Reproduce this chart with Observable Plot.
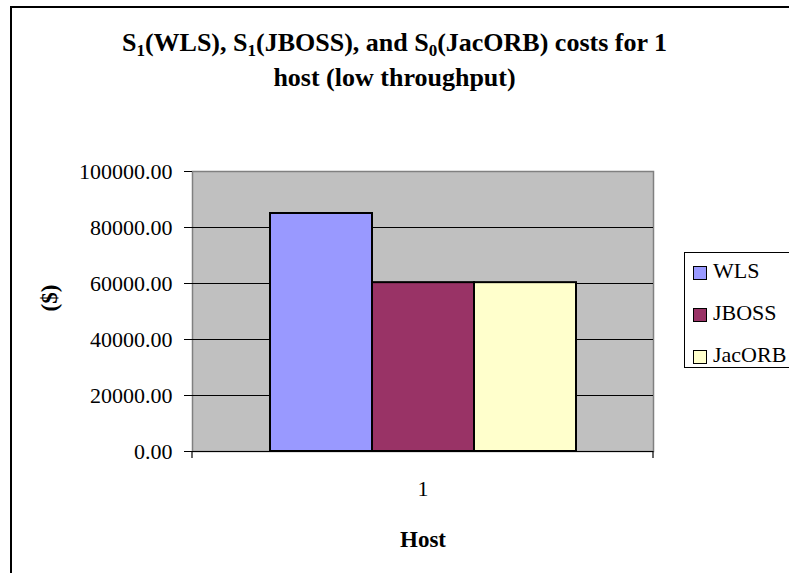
<!DOCTYPE html>
<html>
<head>
<meta charset="utf-8">
<script src="https://cdn.jsdelivr.net/npm/d3@7"></script>
<script src="https://cdn.jsdelivr.net/npm/@observablehq/plot@0.6"></script>
<style>
  html, body { margin: 0; padding: 0; background: #fff; overflow: hidden; }
  #page { position: relative; width: 789px; height: 573px; overflow: hidden; font-family: "Liberation Serif", serif; }
  #border { position: absolute; left: 10px; top: 6px; width: 900px; height: 700px; border: 2px solid #000; box-sizing: border-box; }
  #title { position: absolute; left: 0; top: 25px; width: 789px; text-align: center; font-weight: bold; font-size: 26px; line-height: 35px; color: #000; }
  #title sub { font-size: 17px; vertical-align: -5px; line-height: 0; }
  #chart { position: absolute; left: 0; top: 0; }
  #legend { position: absolute; left: 684px; top: 252px; width: 120px; height: 116px; border: 1px solid #000; box-sizing: border-box; background: #fff; }
  .item { position: absolute; left: 8px; height: 24px; display: flex; align-items: center; font-size: 22px; color: #000; }
  .swatch { width: 12px; height: 12px; border: 1.5px solid #000; margin-right: 6px; margin-top: 4px; }
</style>
</head>
<body>
<div id="page">
  <div id="border"></div>
  <div id="title">S<sub>1</sub>(WLS), S<sub>1</sub>(JBOSS), and S<sub>0</sub>(JacORB) costs for 1<br>host (low throughput)</div>
  <div id="chart"></div>
  <div id="legend"></div>
</div>
<script>
// Server cost per product for a single host
const hosts = ["1"];
const series = ["WLS", "JBOSS", "JacORB"];
const costs = [85000, 60300, 60300];
const colors = ["#9999ff", "#993366", "#ffffcc"];
const yTicks = [0, 20000, 40000, 60000, 80000, 100000];

const data = series.map((s, i) => ({host: hosts[0], series: s, cost: costs[i]}));

const W = 789, H = 573;
const mL = 192, mR = 136, mT = 171, mB = 122;

const chart = Plot.plot({
  width: W,
  height: H,
  marginLeft: mL,
  marginRight: mR,
  marginTop: mT,
  marginBottom: mB,
  style: {fontFamily: "'Liberation Serif', serif", fontSize: "22px", background: "transparent", color: "#000", overflow: "visible"},
  fx: {domain: hosts, padding: 0, label: null, axis: null},
  x: {domain: series, paddingInner: 0, paddingOuter: 0.755, axis: null},
  y: {domain: [0, 100000], ticks: yTicks},
  color: {domain: series, range: colors},
  marks: [
    Plot.frame({fill: "#c0c0c0", stroke: "#808080", strokeWidth: 1.5}),
    Plot.gridY(yTicks.filter(d => d > 0 && d < 100000), {stroke: "#000", strokeOpacity: 1, strokeWidth: 1}),
    Plot.axisY(yTicks, {tickFormat: d => d.toFixed(2), tickSize: 8, tickPadding: 12, label: null, stroke: "#000", fontSize: 22}),
    Plot.barY(data, {fx: "host", x: "series", y: "cost", fill: "series", stroke: "#000", strokeWidth: 2}),
    Plot.ruleY([0], {stroke: "#000", strokeWidth: 1.2}),
    Plot.axisFx(hosts, {anchor: "bottom", tickSize: 0, tickPadding: 29, label: null, fontSize: 22}),
    Plot.text(["Host"], {frameAnchor: "bottom", lineAnchor: "top", dy: 79, fontWeight: "bold", fontSize: 23}),
    Plot.text(["($)"], {frameAnchor: "left", rotate: -90, dx: -143, fontWeight: "bold", fontSize: 23})
  ]
});

// small category-edge ticks under the horizontal axis
const svg = d3.select(chart);
[mL, W - mR].forEach(x => {
  svg.append("line")
    .attr("x1", x).attr("x2", x)
    .attr("y1", H - mB).attr("y2", H - mB + 7)
    .attr("stroke", "#000").attr("stroke-width", 1.2);
});

document.getElementById("chart").appendChild(chart);

// legend
const legend = document.getElementById("legend");
series.forEach((s, i) => {
  const item = document.createElement("div");
  item.className = "item";
  item.style.top = (6 + i * 42) + "px";
  const sw = document.createElement("span");
  sw.className = "swatch";
  sw.style.background = colors[i];
  const label = document.createElement("span");
  label.textContent = s;
  item.appendChild(sw);
  item.appendChild(label);
  legend.appendChild(item);
});
</script>
</body>
</html>
